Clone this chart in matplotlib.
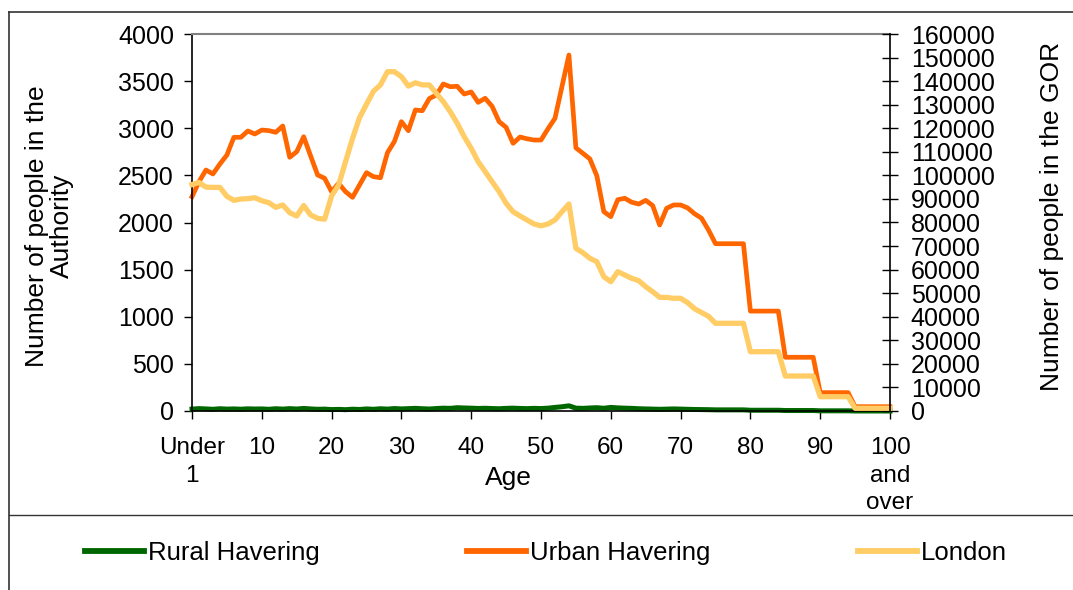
import matplotlib
matplotlib.use("Agg")
import matplotlib.pyplot as plt
from matplotlib.lines import Line2D
import numpy as np

plt.rcParams['font.family'] = ['Liberation Sans', 'DejaVu Sans']

# ---------------- data ----------------
ages = ["Under 1"] + [str(a) for a in range(1, 100)] + ["100 and over"]

urban_havering = [
    2274, 2433, 2557, 2515, 2621, 2716, 2904, 2904, 2971, 2939,
    2981, 2975, 2957, 3024, 2692, 2751, 2910, 2705, 2504, 2469,
    2327, 2416, 2327, 2267, 2398, 2529, 2486, 2475, 2740, 2860,
    3070, 2974, 3194, 3186, 3315, 3353, 3469, 3441, 3445, 3363,
    3385, 3275, 3318, 3232, 3070, 3010, 2840, 2907, 2888, 2875,
    2875, 2994, 3105, 3441, 3777, 2792, 2734, 2675, 2495, 2115,
    2062, 2242, 2257, 2215, 2196, 2235, 2180, 1973, 2151, 2186,
    2186, 2155, 2093, 2045, 1920, 1775, 1775, 1775, 1775, 1775,
    1060, 1060, 1060, 1060, 1060, 570, 570, 570, 570, 570,
    195, 195, 195, 195, 195, 46, 46, 46, 46, 46, 46,
]

london = [
    96100, 97000, 95000, 94900, 94900, 91100, 89400, 89970, 90100, 90530,
    89250, 88400, 86450, 87430, 84160, 82760, 87200, 83180, 81770, 81400,
    91300, 95900, 105800, 115700, 124500, 130200, 135700, 138400, 144000, 144000,
    141900, 137900, 139300, 138400, 138400, 134800, 131300, 127000, 122100, 116400,
    111500, 105800, 101600, 97300, 93100, 88150, 84580, 82760, 81060, 79360,
    78600, 79360, 81060, 84580, 87850, 69050, 67180, 64800, 63360, 57000,
    54880, 59120, 57720, 56300, 55300, 52750, 50620, 48250, 48200, 47830,
    47830, 46000, 43400, 41800, 40200, 37220, 37220, 37220, 37220, 37220,
    25170, 25170, 25170, 25170, 25170, 14850, 14850, 14850, 14850, 14850,
    6070, 6070, 6070, 6070, 6070, 1150, 1150, 1150, 1150, 1150, 1150,
]

rural_havering = [
    20, 25, 22, 18, 24, 20, 22, 19, 23, 21,
    22, 18, 24, 20, 25, 21, 27, 22, 18, 20,
    15, 17, 14, 19, 16, 22, 18, 24, 20, 26,
    22, 25, 28, 24, 21, 26, 30, 28, 35, 32,
    30, 27, 29, 26, 24, 28, 30, 27, 25, 28,
    26, 30, 38, 45, 55, 30, 28, 32, 35, 29,
    38, 33, 30, 28, 24, 22, 20, 18, 20, 22,
    20, 18, 16, 15, 14, 12, 12, 12, 12, 12,
    8, 8, 8, 8, 8, 5, 5, 5, 5, 5,
    2, 2, 2, 2, 2, 0, 0, 0, 0, 0, 0,
]

tick_positions = [0, 10, 20, 30, 40, 50, 60, 70, 80, 90, 100]
tick_labels = ["Under\n1", "10", "20", "30", "40", "50", "60", "70", "80", "90", "100\nand\nover"]
left_ticks = list(range(0, 4001, 500))
right_ticks = list(range(0, 160001, 10000))

# ---------------- figure ----------------
W, H = 1073, 590
fig = plt.figure(figsize=(W / 100, H / 100), dpi=100)
fig.patch.set_facecolor("white")

x0, x1, ytop, ybot = 192, 890, 34, 411
ax = fig.add_axes([x0 / W, 1 - ybot / H, (x1 - x0) / W, (ybot - ytop) / H])
ax2 = ax.twinx()

x = np.arange(len(ages))
c_rural, c_urban, c_london = "#006600", "#FF6600", "#FFCC66"

l1, = ax.plot(x, rural_havering, color=c_rural, lw=3.6, clip_on=False, solid_joinstyle="round")
l2, = ax.plot(x, urban_havering, color=c_urban, lw=3.4, clip_on=False, solid_joinstyle="round")
l3, = ax2.plot(x, london, color=c_london, lw=3.8, clip_on=False, solid_joinstyle="round")

ax.set_xlim(0, 100)
ax.set_ylim(0, 4000)
ax2.set_ylim(0, 160000)

fs_tick = 18
ax.set_xticks(tick_positions)
ax.set_xticklabels(tick_labels, fontsize=17.5, linespacing=1.32)
ax.set_yticks(left_ticks)
ax.set_yticklabels([str(v) for v in left_ticks], fontsize=fs_tick)
ax2.set_yticks(right_ticks)
ax2.set_yticklabels([str(v) for v in right_ticks], fontsize=fs_tick)

ax.tick_params(axis="x", direction="out", length=6, width=1, pad=13, colors="black")
ax.tick_params(axis="y", direction="out", length=6, width=1, pad=7, colors="black")
ax2.tick_params(axis="y", direction="inout", length=12, width=1, pad=9, colors="black")

for s in ["left", "bottom"]:
    ax.spines[s].set_color("black")
    ax.spines[s].set_linewidth(1.2)
ax.spines["right"].set_visible(False)
ax.spines["top"].set_color("#808080")
ax.spines["top"].set_linewidth(1.5)
for s in ["left", "bottom", "top"]:
    ax2.spines[s].set_visible(False)
ax2.spines["right"].set_color("black")
ax2.spines["right"].set_linewidth(1.2)

# axis titles
fs_lab = 19
fig.text(49 / W, 1 - 226 / H, "Number of people in the\nAuthority", rotation=90,
         ha="center", va="center", fontsize=fs_lab, linespacing=1.05, multialignment="center")
fig.text(1052 / W, 1 - 216 / H, "Number of people in the GOR", rotation=90,
         ha="center", va="center", fontsize=fs_lab)
fig.text(508 / W, 1 - 478 / H, "Age", ha="center", va="center", fontsize=fs_lab)

# legend
leg = fig.legend([l1, l2, l3], ["Rural Havering", "Urban Havering", "London"],
                 loc="center", bbox_to_anchor=(546 / W, 1 - 553 / H), ncol=3, frameon=False,
                 fontsize=18.5, handlelength=2.3, handletextpad=0.15, columnspacing=5.75)
for h in leg.legend_handles:
    h.set_linewidth(4.2)

# outer frame lines
lc = "#333333"
fig.add_artist(Line2D([9 / W, 9 / W], [0, 1 - 12 / H], transform=fig.transFigure, color=lc, lw=1.2))
fig.add_artist(Line2D([9 / W, 1], [1 - 12 / H, 1 - 12 / H], transform=fig.transFigure, color=lc, lw=1.2))
fig.add_artist(Line2D([9 / W, 1], [1 - 515 / H, 1 - 515 / H], transform=fig.transFigure, color=lc, lw=1.0))

fig.savefig("out.png", dpi=100)
